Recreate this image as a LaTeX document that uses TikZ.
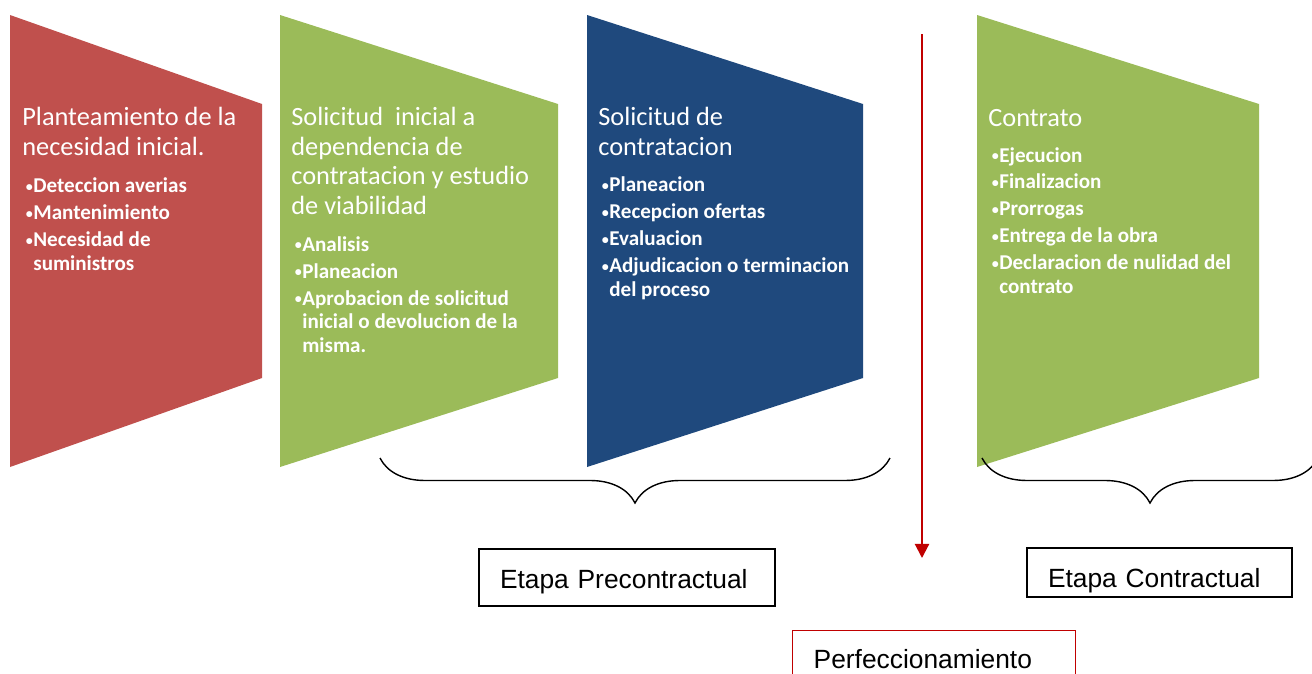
\documentclass[tikz,border=0pt]{standalone}
\usepackage{fontspec}
\setmainfont{Carlito}
\newfontfamily\arialfont{Liberation Sans}
\usepackage{tikz}
\usetikzlibrary{decorations.pathreplacing,arrows.meta}
\definecolor{fasered}{HTML}{C0504D}
\definecolor{fasegreen}{HTML}{9BBB59}
\definecolor{faseblue}{HTML}{1F497D}
\definecolor{darkred}{HTML}{C00000}
\newcommand{\itm}{\makebox[0.18cm][l]{\hspace*{0.03cm}\raisebox{0.15ex}{\footnotesize\textbullet}}}
\newcommand{\sgt}{\hspace*{0.18cm}}
\tikzset{%
    titulo/.style={anchor=base west, inner sep=0pt, text=white, align=left,
        font=\fontsize{15}{16.7}\selectfont},
    lista/.style={anchor=base west, inner sep=0pt, text=white, align=left,
        font=\fontsize{12}{13.3}\selectfont\bfseries},
    etapa/.style={draw, line width=0.8pt, align=left, inner xsep=0.42cm,
        font=\arialfont\fontsize{15}{17}\selectfont},
    llave/.style={decorate, decoration={brace, mirror, amplitude=0.9cm}, line width=0.8pt}
}

\begin{document}
\begin{tikzpicture}[x=0.02cm, y=-0.02cm]
    \useasboundingbox (0,0) rectangle (1312,673);
    % fases (texto anclado en la ultima linea)
    \fill[fasered] (10,15) -- (262,104) -- (262,378) -- (10,467) -- cycle;
    \fill[fasegreen] (280,15) -- (558,104) -- (558,378) -- (280,467) -- cycle;
    \fill[faseblue] (587,15) -- (863,104) -- (863,378) -- (587,467) -- cycle;
    \fill[fasegreen] (977,15) -- (1259,104) -- (1259,378) -- (977,467) -- cycle;

    \node[titulo] (t1) at (22,155) {Planteamiento de la\\necesidad inicial.};
    \node[lista] (l1) at (24,270) {\itm Deteccion averias\\[2pt]\itm Mantenimiento\\[2pt]\itm Necesidad de\\\sgt suministros};

    \node[titulo] (t2) at (291,214) {Solicitud\ \ inicial a\\dependencia de\\contratacion y estudio\\de viabilidad};
    \node[lista] (l2) at (293,352) {\itm Analisis\\[2pt]\itm Planeacion\\[2pt]\itm Aprobacion de solicitud\\\sgt inicial o devolucion de la\\\sgt misma.};

    \node[titulo] (t3) at (598,155) {Solicitud de\\contratacion};
    \node[lista] (l3) at (600,296) {\itm Planeacion\\[2pt]\itm Recepcion ofertas\\[2pt]\itm Evaluacion\\[2pt]\itm Adjudicacion o terminacion\\\sgt del proceso};

    \node[titulo] (t4) at (988,126) {Contrato};
    \node[lista] (l4) at (990,293) {\itm Ejecucion\\[2pt]\itm Finalizacion\\[2pt]\itm Prorrogas\\[2pt]\itm Entrega de la obra\\[2pt]\itm Declaracion de nulidad del\\\sgt contrato};

    % llaves y etapas
    \coordinate (pre1) at (380,458);
    \coordinate (pre2) at (890,458);
    \coordinate (con1) at (982,458);
    \coordinate (con2) at (1318,458);
    \draw[llave] (pre1) -- (pre2);
    \draw[llave] (con1) -- (con2);
    \node[etapa, text width=5.08cm, minimum height=1.14cm, text height=0.5cm, text depth=0.08cm] (pre) at (627,577.5) {Etapa Precontractual};
    \node[etapa, text width=4.46cm, minimum height=0.94cm, text height=0.66cm, text depth=0.08cm] (con) at (1159.5,572.5) {Etapa Contractual};

    % perfeccionamiento
    \coordinate (fl1) at (922,34);
    \coordinate (fl2) at (922,558);
    \draw[-{Triangle[width=8pt,length=8pt]}, darkred, line width=1.2pt] (fl1) -- (fl2);
    \node[etapa, draw=darkred, anchor=north west, text width=4.82cm, inner ysep=0.37cm] (perf) at (792,630) {Perfeccionamiento};
\end{tikzpicture}
\end{document}
